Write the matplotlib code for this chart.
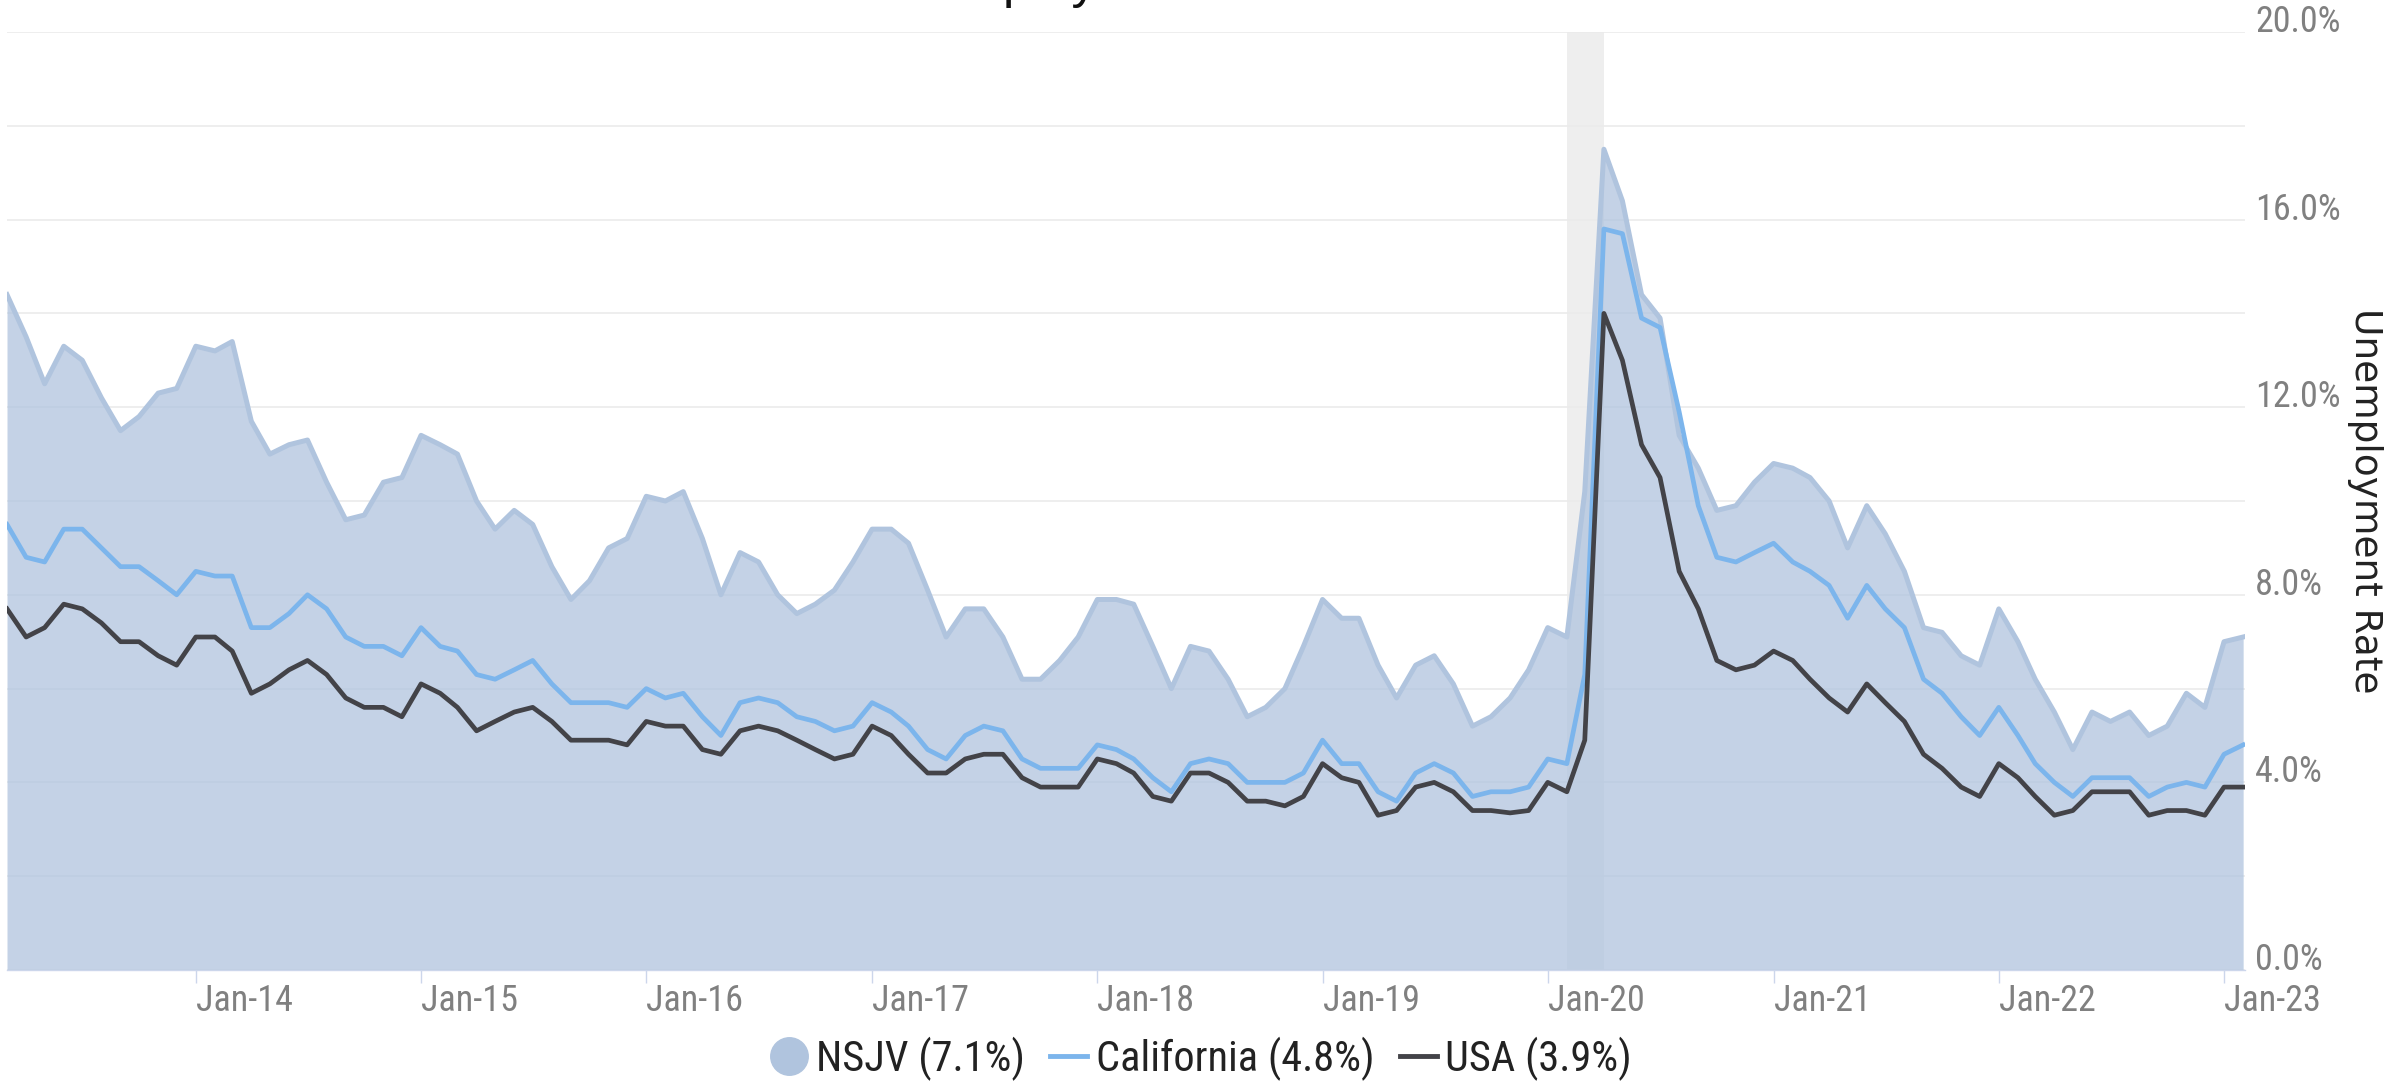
import matplotlib
matplotlib.use("Agg")
import matplotlib.pyplot as plt
import matplotlib.dates as mdates
import matplotlib.ticker as mticker
from matplotlib.lines import Line2D
from matplotlib import font_manager as fm
import pandas as pd

# ---------------- data ----------------
start_month = "2013-03-01"
n_months = 120

nsjv = [14.4, 13.5, 12.5, 13.3, 13.0, 12.2, 11.5, 11.8, 12.3, 12.4,
        13.3, 13.2, 13.4, 11.7, 11.0, 11.2, 11.3, 10.4, 9.6, 9.7,
        10.4, 10.5, 11.4, 11.2, 11.0, 10.0, 9.4, 9.8, 9.5, 8.6,
        7.9, 8.3, 9.0, 9.2, 10.1, 10.0, 10.2, 9.2, 8.0, 8.9,
        8.7, 8.0, 7.6, 7.8, 8.1, 8.7, 9.4, 9.4, 9.1, 8.1,
        7.1, 7.7, 7.7, 7.1, 6.2, 6.2, 6.6, 7.1, 7.9, 7.9,
        7.8, 6.9, 6.0, 6.9, 6.8, 6.2, 5.4, 5.6, 6.0, 6.9,
        7.9, 7.5, 7.5, 6.5, 5.8, 6.5, 6.7, 6.1, 5.2, 5.4,
        5.8, 6.4, 7.3, 7.1, 10.2, 17.5, 16.4, 14.4, 13.9, 11.4,
        10.7, 9.8, 9.9, 10.4, 10.8, 10.7, 10.5, 10.0, 9.0, 9.9,
        9.3, 8.5, 7.3, 7.2, 6.7, 6.5, 7.7, 7.0, 6.2, 5.5,
        4.7, 5.5, 5.3, 5.5, 5.0, 5.2, 5.9, 5.6, 7.0, 7.1]

california = [9.5, 8.8, 8.7, 9.4, 9.4, 9.0, 8.6, 8.6, 8.3, 8.0,
              8.5, 8.4, 8.4, 7.3, 7.3, 7.6, 8.0, 7.7, 7.1, 6.9,
              6.9, 6.7, 7.3, 6.9, 6.8, 6.3, 6.2, 6.4, 6.6, 6.1,
              5.7, 5.7, 5.7, 5.6, 6.0, 5.8, 5.9, 5.4, 5.0, 5.7,
              5.8, 5.7, 5.4, 5.3, 5.1, 5.2, 5.7, 5.5, 5.2, 4.7,
              4.5, 5.0, 5.2, 5.1, 4.5, 4.3, 4.3, 4.3, 4.8, 4.7,
              4.5, 4.1, 3.8, 4.4, 4.5, 4.4, 4.0, 4.0, 4.0, 4.2,
              4.9, 4.4, 4.4, 3.8, 3.6, 4.2, 4.4, 4.2, 3.7, 3.8,
              3.8, 3.9, 4.5, 4.4, 6.3, 15.8, 15.7, 13.9, 13.7, 11.9,
              9.9, 8.8, 8.7, 8.9, 9.1, 8.7, 8.5, 8.2, 7.5, 8.2,
              7.7, 7.3, 6.2, 5.9, 5.4, 5.0, 5.6, 5.0, 4.4, 4.0,
              3.7, 4.1, 4.1, 4.1, 3.7, 3.9, 4.0, 3.9, 4.6, 4.8]

usa = [7.7, 7.1, 7.3, 7.8, 7.7, 7.4, 7.0, 7.0, 6.7, 6.5,
       7.1, 7.1, 6.8, 5.9, 6.1, 6.4, 6.6, 6.3, 5.8, 5.6,
       5.6, 5.4, 6.1, 5.9, 5.6, 5.1, 5.3, 5.5, 5.6, 5.3,
       4.9, 4.9, 4.9, 4.8, 5.3, 5.2, 5.2, 4.7, 4.6, 5.1,
       5.2, 5.1, 4.9, 4.7, 4.5, 4.6, 5.2, 5.0, 4.6, 4.2,
       4.2, 4.5, 4.6, 4.6, 4.1, 3.9, 3.9, 3.9, 4.5, 4.4,
       4.2, 3.7, 3.6, 4.2, 4.2, 4.0, 3.6, 3.6, 3.5, 3.7,
       4.4, 4.1, 4.0, 3.3, 3.4, 3.9, 4.0, 3.8, 3.4, 3.4,
       3.35, 3.4, 4.0, 3.8, 4.9, 14.0, 13.0, 11.2, 10.5, 8.5,
       7.7, 6.6, 6.4, 6.5, 6.8, 6.6, 6.2, 5.8, 5.5, 6.1,
       5.7, 5.3, 4.6, 4.3, 3.9, 3.7, 4.4, 4.1, 3.7, 3.3,
       3.4, 3.8, 3.8, 3.8, 3.3, 3.4, 3.4, 3.3, 3.9, 3.9]

series_labels = ["NSJV (7.1%)", "California (4.8%)", "USA (3.9%)"]
x_tick_years = ["2014", "2015", "2016", "2017", "2018", "2019", "2020", "2021", "2022", "2023"]
y_ticks = [0, 4, 8, 12, 16, 20]
recession = ("2020-02-01", "2020-04-01")
chart_title = "Unemployment Rate"
y_title = "Unemployment Rate"

# ---------------- styles ----------------
names = {f.name for f in fm.fontManager.ttflist}
NARROW = "Liberation Sans"
for cand in ["Liberation Sans Narrow", "Arial Narrow", "Arimo Narrow", "Roboto Condensed",
             "Archivo Narrow", "PT Sans Narrow", "Sofia Sans Semi Condensed"]:
    if cand in names:
        NARROW = cand
        break

C_NSJV = "#b0c4de"
C_CA = "#7cb5ec"
C_US = "#434348"
C_GRID = "#ebebeb"
C_LABEL = "#808080"

dates = pd.date_range(start_month, periods=n_months, freq="MS")

W, H, DPI = 2399, 1088, 100
fig = plt.figure(figsize=(W / DPI, H / DPI), dpi=DPI)
left_px, right_px, top_px, bottom_px = 7, 2245, 32, 970
ax = fig.add_axes([left_px / W, 1 - bottom_px / H,
                   (right_px - left_px) / W, (bottom_px - top_px) / H])

# recession band
ax.axvspan(pd.Timestamp(recession[0]), pd.Timestamp(recession[1]),
           color="#eeeeee", zorder=0.3, lw=0)

# grid
ax.set_axisbelow(True)
ax.set_yticks(y_ticks)
ax.set_yticks([2, 6, 10, 14, 18], minor=True)
ax.grid(axis="y", which="both", color=C_GRID, lw=1.2, zorder=0.5)

# series
ax.fill_between(dates, 0, nsjv, color=C_NSJV, alpha=0.75, lw=0, zorder=1)
ax.plot(dates, nsjv, color=C_NSJV, lw=3.6, zorder=2, solid_joinstyle="round")
ax.plot(dates, california, color=C_CA, lw=3.4, zorder=3, solid_joinstyle="round")
ax.plot(dates, usa, color=C_US, lw=3.4, zorder=4, solid_joinstyle="round")

ax.set_ylim(0, 20)
ax.set_xlim(dates[0], dates[-1] + pd.Timedelta(days=3))

# spines
for s in ["left", "top", "right"]:
    ax.spines[s].set_visible(False)
ax.spines["bottom"].set_color("#ccd6eb")
ax.spines["bottom"].set_linewidth(1.0)
ax.spines["bottom"].set_zorder(5)

# x ticks
xt = [pd.Timestamp(f"{y}-01-01") for y in x_tick_years]
ax.set_xticks(xt)
ax.xaxis.set_major_formatter(mdates.DateFormatter("%b-%y"))
ax.tick_params(axis="x", which="major", length=9, width=1.0, color="#ccd6eb",
               pad=0.5, labelsize=26, labelcolor=C_LABEL)
for lab in ax.get_xticklabels():
    lab.set_horizontalalignment("left")
    lab.set_fontfamily(NARROW)

# y ticks (right)
ax.yaxis.tick_right()
ax.yaxis.set_major_formatter(mticker.FuncFormatter(lambda v, p: f"{v:.1f}%"))
ax.tick_params(axis="y", which="both", length=0, pad=7.2, labelsize=26, labelcolor=C_LABEL)
for lab in ax.get_yticklabels():
    lab.set_verticalalignment("baseline")
    lab.set_fontfamily(NARROW)

# y axis title
ax.set_ylabel(y_title, rotation=270, fontsize=27, color="#222222",
              family="DejaVu Sans", va="center", ha="center", rotation_mode="anchor")
ax.yaxis.set_label_coords((2365 - left_px) / (right_px - left_px), 0.5)

# chart title, clipped at the very top as in the reference
fig.text(866 / W, 1 + 3 / H, chart_title, ha="left", va="baseline",
         fontsize=37, family="Liberation Sans", color="#111111")

# legend
handles = [
    Line2D([], [], marker="o", markersize=27, color=C_NSJV, linestyle="None"),
    Line2D([], [], color=C_CA, lw=3.5),
    Line2D([], [], color=C_US, lw=3.5),
]
leg = fig.legend(handles, series_labels, loc="center",
                 bbox_to_anchor=(1201 / W, (H - 1059) / H), ncol=3, frameon=False,
                 prop={"family": NARROW, "size": 30.5}, handlelength=0.88,
                 handletextpad=0.2, columnspacing=0.6, borderpad=0, borderaxespad=0)
for t in leg.get_texts():
    t.set_color("#222222")

fig.savefig("out.png", dpi=DPI, facecolor="white")
